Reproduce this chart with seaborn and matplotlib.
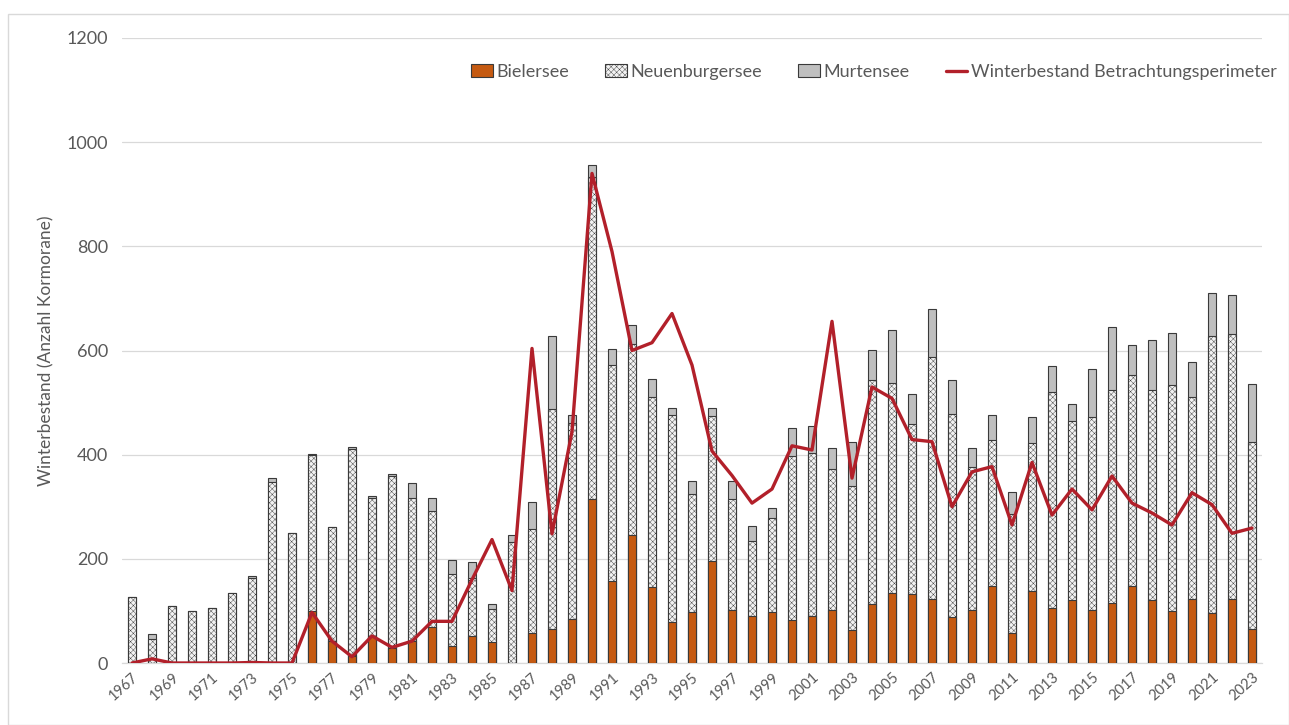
import matplotlib
matplotlib.use("Agg")
import matplotlib.pyplot as plt
import seaborn as sns
import numpy as np
import pandas as pd
from matplotlib.patches import Patch, Rectangle
from matplotlib.lines import Line2D

years = list(range(1967, 2024))
bielersee = [0, 0, 0, 0, 0, 0, 0, 0, 0, 99, 42, 13, 52, 29, 42, 70, 32, 51, 41, 0,
             58, 65, 85, 315, 158, 246, 146, 79, 97, 196, 102, 90, 97, 82, 91, 102, 63, 114, 135, 133,
             123, 88, 102, 147, 57, 139, 105, 121, 102, 115, 147, 121, 99, 123, 96, 123, 65]
neuenburgersee = [127, 47, 110, 99, 105, 134, 163, 347, 250, 300, 220, 398, 265, 331, 275, 221, 139, 112, 63, 233,
                  200, 423, 376, 619, 415, 366, 365, 398, 228, 279, 213, 145, 181, 315, 313, 270, 277, 429, 403, 325,
                  464, 391, 275, 281, 230, 284, 415, 343, 371, 409, 406, 403, 435, 387, 532, 508, 360]
murtensee = [0, 9, 0, 0, 0, 0, 5, 9, 0, 3, 0, 3, 3, 3, 28, 26, 27, 30, 10, 12,
             52, 139, 15, 22, 30, 37, 35, 13, 24, 15, 34, 28, 19, 55, 52, 40, 85, 58, 102, 58,
             92, 64, 35, 49, 42, 50, 51, 33, 91, 121, 57, 97, 99, 68, 83, 75, 110]
winterbestand = [0, 8, 0, 0, 0, 0, 1, 0, 0, 97, 42, 12, 52, 30, 42, 80, 80, 160, 237, 139,
                 604, 248, 444, 940, 790, 600, 615, 671, 572, 407, 360, 307, 334, 417, 409, 656, 355, 530, 508, 429,
                 425, 300, 367, 377, 265, 385, 284, 334, 294, 359, 307, 288, 265, 327, 304, 249, 259]
yticks = [0, 200, 400, 600, 800, 1000, 1200]

df = pd.DataFrame({"year": [str(y) for y in years], "biel": bielersee,
                   "neu": neuenburgersee, "murt": murtensee})
df["lvl2"] = df["biel"] + df["neu"]
df["lvl3"] = df["lvl2"] + df["murt"]
order = df["year"].tolist()

sns.set_theme(style="white")
plt.rcParams["font.family"] = ["Lato", "DejaVu Sans"]
plt.rcParams["hatch.linewidth"] = 0.3
plt.rcParams["hatch.color"] = "#B4B4B4"

fig = plt.figure(figsize=(12.89, 7.25), dpi=100)
ax = fig.add_axes([122 / 1289, 1 - 663 / 725, (1262 - 122) / 1289, (663 - 38) / 725])

c_biel = "#C55A11"
c_murt = "#BFBFBF"
c_neu = "#F2F2F2"
edge = "#3a3a3a"
bw = 0.43

sns.barplot(data=df, x="year", y="lvl3", order=order, color=c_murt, saturation=1,
            width=bw, edgecolor=edge, linewidth=0.8, ax=ax, zorder=2)
sns.barplot(data=df, x="year", y="lvl2", order=order, color=c_neu, saturation=1,
            width=bw, edgecolor=edge, linewidth=0.8, hatch="xxxxxx", ax=ax, zorder=3)
sns.barplot(data=df, x="year", y="biel", order=order, color=c_biel, saturation=1,
            width=bw, edgecolor=edge, linewidth=0.8, ax=ax, zorder=4)

sns.lineplot(x=np.arange(len(years)), y=winterbestand, color="#B2202A", linewidth=2.4,
             ax=ax, zorder=5)

ax.set_xlim(-0.5, len(years) - 0.5)
ax.set_ylim(0, 1200)
ax.set_yticks(yticks)
ax.set_yticklabels([str(v) for v in yticks], fontsize=13, color="#595959")
pos = list(range(0, len(years), 2))
ax.set_xticks(pos)
ax.set_xticklabels([str(years[i]) for i in pos], rotation=42, ha="right",
                   rotation_mode="anchor", fontsize=10.5, color="#595959")
ax.tick_params(axis="y", length=0, pad=10)
ax.tick_params(axis="x", length=0, pad=5)
ax.set_xlabel("")
ax.set_ylabel("Winterbestand (Anzahl Kormorane)", fontsize=12.5, color="#595959", labelpad=9)
ax.grid(axis="y", color="#D9D9D9", linewidth=0.9, zorder=0)
ax.set_axisbelow(True)
for s in ["top", "right", "left"]:
    ax.spines[s].set_visible(False)
ax.spines["bottom"].set_color("#D9D9D9")
ax.spines["bottom"].set_linewidth(0.9)

handles = [
    Patch(facecolor=c_biel, edgecolor=edge, linewidth=0.8, label="Bielersee"),
    Patch(facecolor=c_neu, edgecolor=edge, linewidth=0.8, hatch="xxxxxx", label="Neuenburgersee"),
    Patch(facecolor=c_murt, edgecolor=edge, linewidth=0.8, label="Murtensee"),
    Line2D([0], [0], color="#B2202A", linewidth=2.4, label="Winterbestand Betrachtungsperimeter"),
]
leg = fig.legend(handles=handles, loc="center right", bbox_to_anchor=(1284 / 1289, 1 - 72 / 725),
                 ncol=4, frameon=False, fontsize=13, handlelength=1.2, handleheight=0.7,
                 handletextpad=0.2, columnspacing=2.0, borderaxespad=0)
for t in leg.get_texts():
    t.set_color("#595959")

fig.patches.append(Rectangle((8 / 1289, 0), 1 - 8 / 1289, 1 - 14 / 725, transform=fig.transFigure,
                             fill=False, edgecolor="#D9D9D9", linewidth=1.0, zorder=0))

fig.savefig("out.png", dpi=100)
